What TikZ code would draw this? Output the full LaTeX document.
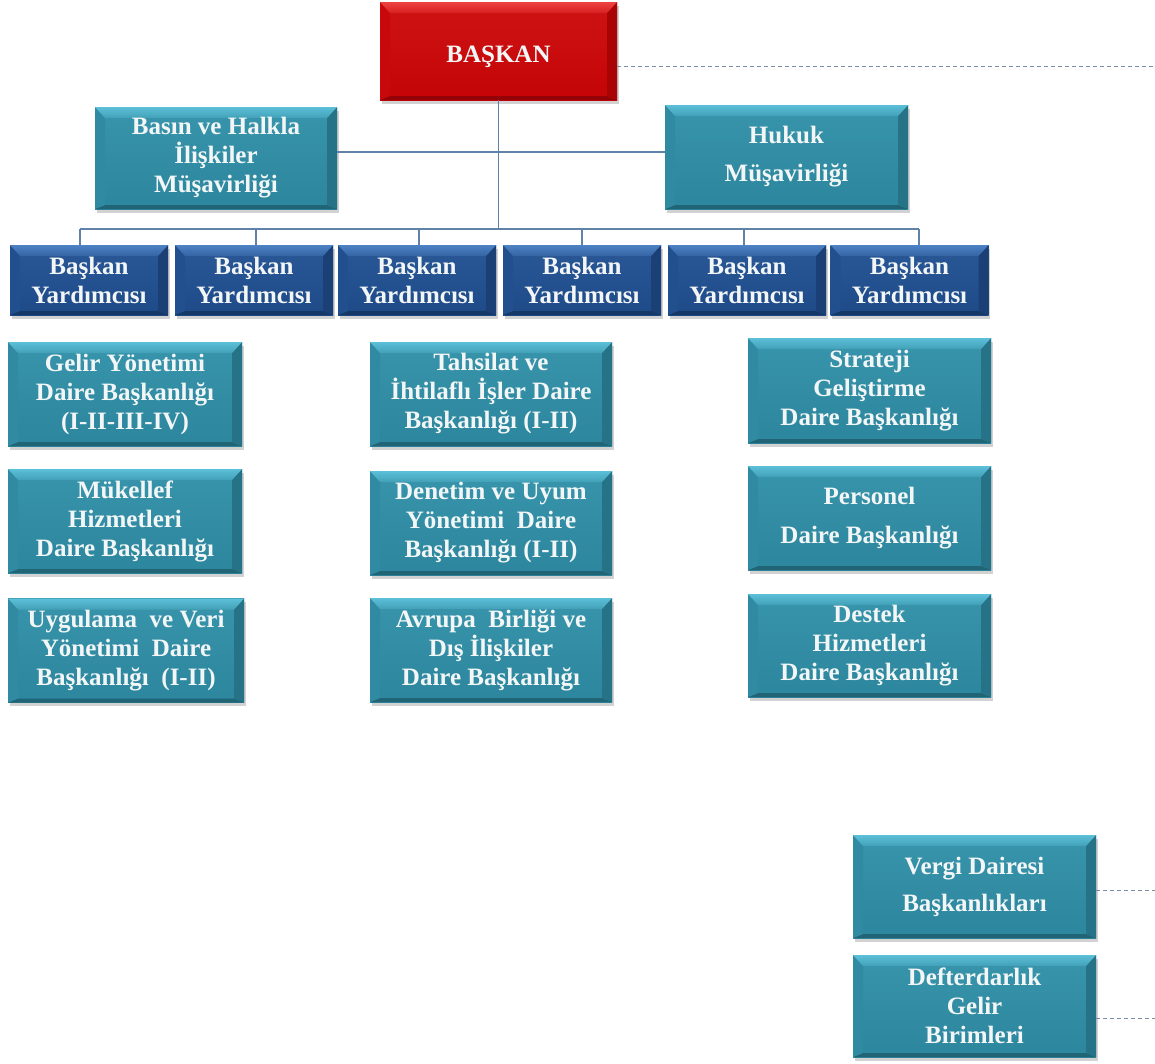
\documentclass[tikz,border=0pt]{standalone}
\usepackage{fontspec}
\setmainfont{Liberation Serif}
\usetikzlibrary{calc,shadows}
\definecolor{tealbase}{RGB}{44,134,157}
\definecolor{teallight}{RGB}{92,192,216}
\definecolor{navybase}{RGB}{30,74,136}
\definecolor{navylight}{RGB}{78,130,196}
\definecolor{redbase}{RGB}{196,4,6}
\definecolor{redlight}{RGB}{238,66,66}
\definecolor{connc}{RGB}{96,130,168}
\definecolor{dashc}{RGB}{120,140,165}
\definecolor{txtc}{RGB}{242,246,246}
\newcommand\orgbevel[2]{%
  \path (path picture bounding box.north west) coordinate (bNW)
        (path picture bounding box.north east) coordinate (bNE)
        (path picture bounding box.south west) coordinate (bSW)
        (path picture bounding box.south east) coordinate (bSE);
  \fill[#1!75!black] (bSW) -- (bSE) -- ([shift={(-10pt,4pt)}]bSE) -- ([shift={(10pt,4pt)}]bSW) -- cycle;
  \fill[#1!86!black] (bNE) -- (bSE) -- ([shift={(-10pt,4pt)}]bSE) -- ([shift={(-10pt,-11pt)}]bNE) -- cycle;
  \fill[#1!92!#2] (bNW) -- (bSW) -- ([shift={(10pt,4pt)}]bSW) -- ([shift={(10pt,-11pt)}]bNW) -- cycle;
  \shade[top color=#2, bottom color=#2!45!#1] (bNW) -- (bNE) -- ([shift={(-10pt,-11pt)}]bNE) -- ([shift={(10pt,-11pt)}]bNW) -- cycle;
}
\tikzset{
  orgface/.style n args={2}{rectangle, inner sep=0pt, align=center, text=txtc,
    font=\bfseries\fontsize{25}{29}\selectfont,
    top color=#2!25!#1, bottom color=#1,
    drop shadow={shadow xshift=1.5pt, shadow yshift=-3.5pt, opacity=0.35},
    path picture={\orgbevel{#1}{#2}}},
  tealbox/.style={orgface={tealbase}{teallight}},
  navybox/.style={orgface={navybase}{navylight}, minimum width=158, minimum height=70},
  redbox/.style={orgface={redbase}{redlight}},
  conn/.style={draw=connc, line width=1.2pt},
  dashconn/.style={draw=dashc, line width=1pt, dash pattern=on 4pt off 3pt},
}
\begin{document}
\begin{tikzpicture}[x=1pt,y=-1pt]
\useasboundingbox[fill=white] (0,0) rectangle (1155,1063);
\coordinate (edge) at (1155,0);
\coordinate (busL) at (80,229);
\coordinate (busR) at (919,229);

\node[redbox, minimum width=237, minimum height=98] (baskan) at (498.5,51) {\smash{\raisebox{-11pt}{BAŞKAN}}};
\node[tealbox, minimum width=242, minimum height=102] (basin) at (216,158) {Basın ve Halkla\\İlişkiler\\Müşavirliği};
\node[tealbox, minimum width=243, minimum height=104] (hukuk) at (786.5,157) {Hukuk\\[9pt]Müşavirliği};

\foreach \i/\x in {1/89,2/254,3/417,4/582,5/747,6/909.5}
  \node[navybox] (vp\i) at (\x,280) {Başkan\\Yardımcısı};

\node[tealbox, minimum width=234, minimum height=104] (d1) at (125,394) {Gelir Yönetimi\\Daire Başkanlığı\\(I-II-III-IV)};
\node[tealbox, minimum width=234, minimum height=104] (d2) at (125,521) {Mükellef\\Hizmetleri\\Daire Başkanlığı};
\node[tealbox, minimum width=236, minimum height=104] (d3) at (126,650.5) {Uygulama\enspace ve Veri\\Yönetimi\enspace Daire\\Başkanlığı\enspace (I-II)};

\node[tealbox, minimum width=242, minimum height=104] (d4) at (491,394) {Tahsilat ve\\İhtilaflı İşler Daire\\Başkanlığı (I-II)};
\node[tealbox, minimum width=242, minimum height=104] (d5) at (491,523) {Denetim ve Uyum\\Yönetimi\enspace Daire\\Başkanlığı (I-II)};
\node[tealbox, minimum width=242, minimum height=104] (d6) at (491,650) {Avrupa\enspace Birliği ve\\Dış İlişkiler\\Daire Başkanlığı};

\node[tealbox, minimum width=243, minimum height=105] (d7) at (869.5,390.5) {Strateji\\Geliştirme\\Daire Başkanlığı};
\node[tealbox, minimum width=243, minimum height=104] (d8) at (869.5,518) {Personel\\[10pt]Daire Başkanlığı};
\node[tealbox, minimum width=243, minimum height=103] (d9) at (869.5,645.5) {Destek\\Hizmetleri\\Daire Başkanlığı};

\node[tealbox, minimum width=243, minimum height=103] (vd) at (974.5,886.5) {Vergi Dairesi\\[8pt]Başkanlıkları};
\node[tealbox, minimum width=243, minimum height=102] (df) at (974.5,1006) {Defterdarlık\\Gelir\\Birimleri};

% connectors
\draw[conn] (baskan.south) -- (baskan.south |- busL);
\draw[conn] ($(basin.east)+(0,-6)$) -- ($(hukuk.west)+(0,-5)$);
\draw[conn] (busL) -- (busR);
\draw[conn] ($(vp1.north)+(-9,0)$) -- ++(0,-16);
\draw[conn] ($(vp2.north)+(2,0)$) -- ++(0,-16);
\draw[conn] ($(vp3.north)+(2,0)$) -- ++(0,-16);
\draw[conn] (vp4.north) -- ++(0,-16);
\draw[conn] ($(vp5.north)+(-3,0)$) -- ++(0,-16);
\draw[conn] ($(vp6.north)+(9.5,0)$) -- ++(0,-16);

\draw[dashconn] ($(baskan.east)+(0,15)$) -- ($(baskan.east -| edge)+(0,15)$);
\draw[dashconn] ($(vd.east)+(0,4)$) -- ($(vd.east -| edge)+(0,4)$);
\draw[dashconn] ($(df.east)+(0,12)$) -- ($(df.east -| edge)+(0,12)$);
\end{tikzpicture}
\end{document}
